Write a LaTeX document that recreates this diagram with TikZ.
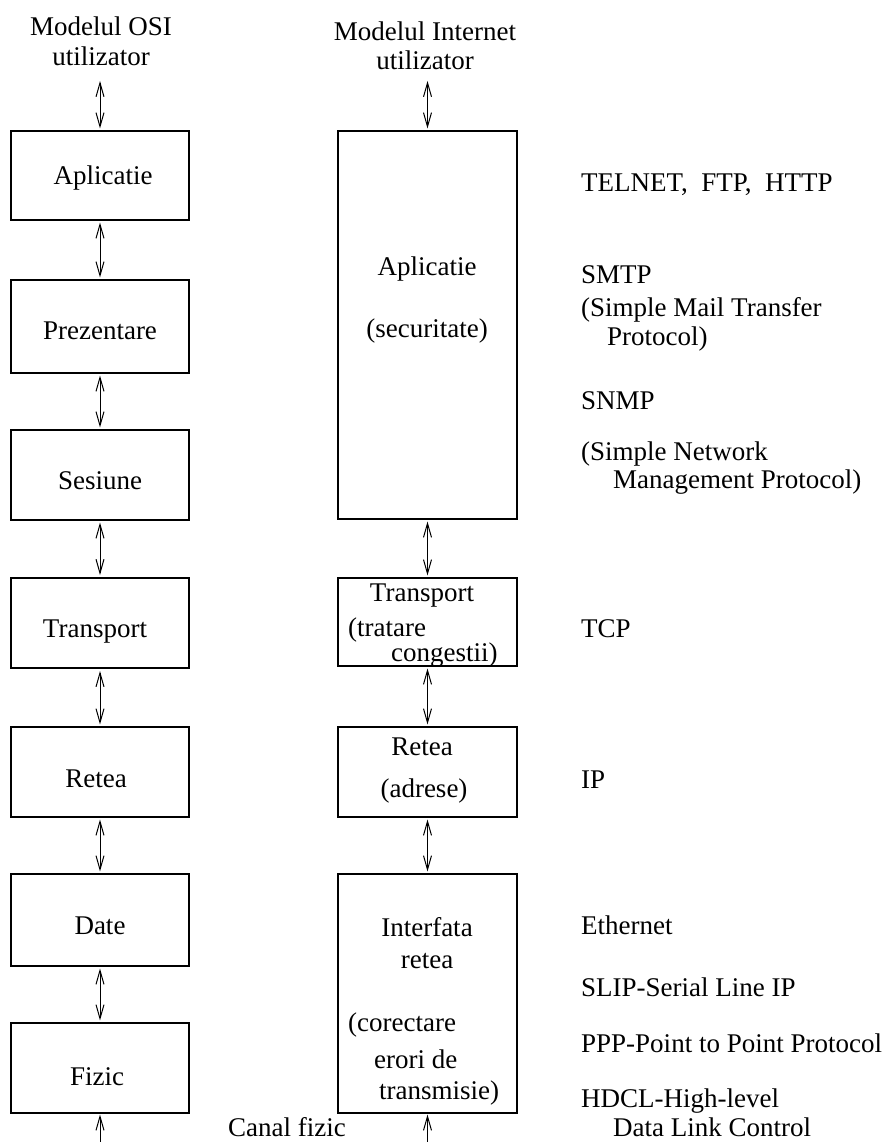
\documentclass[tikz,border=0pt]{standalone}
\usepackage{fontspec}
\setmainfont{Liberation Serif}
\usetikzlibrary{arrows.meta}
\begin{document}
\begin{tikzpicture}[x=1pt,y=-1pt,
  font=\fontsize{27}{30}\selectfont,
  layer/.style={draw, line width=1.1pt, inner sep=0pt, minimum width=178pt},
  thicklayer/.style={layer, line width=2pt},
  lbl/.style={inner sep=0pt, anchor=base},
  llbl/.style={inner sep=0pt, anchor=base west},
  link/.style={line width=1pt, {Straight Barb[length=14pt,width=8pt]}-{Straight Barb[length=14pt,width=8pt]}, shorten <=2pt, shorten >=2pt},
  uplink/.style={line width=1pt, -{Straight Barb[length=14pt,width=8pt]}, shorten >=1pt}
]
\useasboundingbox (0,0) rectangle (886,1142);
% titles
\node[lbl] (t1a) at (101,36) {Modelul OSI};
\node[lbl] (t1b) at (101,66) {utilizator};
\node[lbl] (t2a) at (425,41) {Modelul Internet};
\node[lbl] (t2b) at (425,70) {utilizator};
\coordinate (u1) at (100,79);
\coordinate (u2) at (427.5,79);
% OSI column
\node[layer, minimum height=89pt] (L1) at (100,175.5) {};
\node[layer, minimum height=93pt] (L2) at (100,326.5) {};
\node[layer, minimum height=90pt] (L3) at (100,475) {};
\node[thicklayer, minimum height=90pt] (L4) at (100,623) {};
\node[layer, minimum height=90pt] (L5) at (100,772) {};
\node[layer, minimum height=92pt] (L6) at (100,920) {};
\node[layer, minimum height=90pt] (L7) at (100,1068) {};
\node[lbl] (l1) at (103,185) {Aplicatie};
\node[lbl] (l2) at (100,339) {Prezentare};
\node[lbl] (l3) at (100,489) {Sesiune};
\node[lbl] (l4) at (95,637) {Transport};
\node[lbl] (l5) at (96,787) {Retea};
\node[lbl] (l6) at (100,934) {Date};
\node[lbl] (l7) at (97,1085) {Fizic};
% Internet column
\node[layer, minimum width=179pt, minimum height=388pt] (R1) at (427.5,325) {};
\node[layer, minimum width=179pt, minimum height=88pt] (R2) at (427.5,622) {};
\node[layer, minimum width=179pt, minimum height=90pt] (R3) at (427.5,772) {};
\node[layer, minimum width=179pt, minimum height=239pt] (R4) at (427.5,993.5) {};
\node[lbl] (r1a) at (427,275) {Aplicatie};
\node[lbl] (r1b) at (427,337) {(securitate)};
\node[lbl] (r2a) at (422,601) {Transport};
\node[llbl] (r2b) at (348,636) {(tratare};
\node[llbl] (r2c) at (391,661) {congestii)};
\node[lbl] (r3a) at (422,755) {Retea};
\node[lbl] (r3b) at (424,797) {(adrese)};
\node[lbl] (r4a) at (427,936) {Interfata};
\node[lbl] (r4b) at (427,968) {retea};
\node[llbl] (r4c) at (348,1031) {(corectare};
\node[llbl] (r4d) at (374,1068) {erori de};
\node[llbl] (r4e) at (379,1099) {transmisie)};
% protocols
\node[llbl] (p1) at (581,191) {TELNET,\ \ FTP,\ \ HTTP};
\node[llbl] (p2) at (581,283) {SMTP};
\node[llbl] (p3) at (581,316) {(Simple Mail Transfer};
\node[llbl] (p4) at (607,345) {Protocol)};
\node[llbl] (p5) at (581,409) {SNMP};
\node[llbl] (p6) at (581,460) {(Simple Network};
\node[llbl] (p7) at (613,488) {Management Protocol)};
\node[llbl] (p8) at (581,637) {TCP};
\node[llbl] (p9) at (581,788) {IP};
\node[llbl] (p10) at (581,934) {Ethernet};
\node[llbl] (p11) at (581,996) {SLIP-Serial Line IP};
\node[llbl] (p12) at (581,1052) {PPP-Point to Point Protocol};
\node[llbl] (p13) at (581,1107) {HDCL-High-level};
\node[llbl] (p14) at (613,1136) {Data Link Control};
\node[llbl] (cf) at (228,1136) {Canal fizic};
\coordinate (b1) at (100,1142);
\coordinate (b2) at (427.5,1142);
% connectors
\draw[link] (u1) -- (L1.north);
\draw[link] (L1) -- (L2);
\draw[link] (L2) -- (L3);
\draw[link] (L3) -- (L4);
\draw[link] (L4) -- (L5);
\draw[link] (L5) -- (L6);
\draw[link] (L6) -- (L7);
\draw[uplink] (b1) -- (L7.south);
\draw[link] (u2) -- (R1.north);
\draw[link] (R1) -- (R2);
\draw[link] (R2) -- (R3);
\draw[link] (R3) -- (R4);
\draw[uplink] (b2) -- (R4.south);
\end{tikzpicture}
\end{document}
